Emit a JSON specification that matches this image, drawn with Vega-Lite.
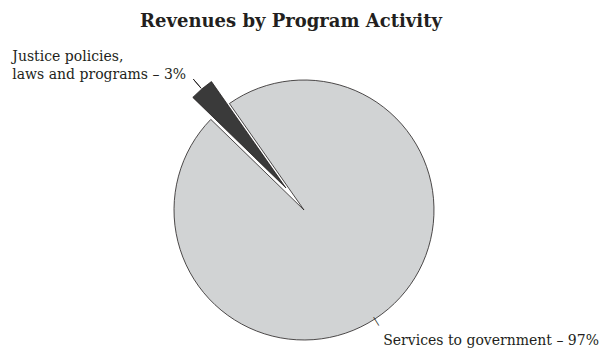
{
  "$schema": "https://vega.github.io/schema/vega-lite/v6.json",
  "autosize": "none",
  "width": 608,
  "height": 280,
  "padding": {"top": 70, "left": 0, "right": 0, "bottom": 0},
  "background": "white",
  "title": {
    "text": "Revenues by Program Activity",
    "font": "DejaVu Serif",
    "fontSize": 18,
    "fontWeight": "bold",
    "color": "#231f20",
    "anchor": "middle",
    "offset": 19,
    "dx": -13
  },
  "data": {
    "values": [
      {"category": "Services to government", "label": "Services to government – 97%", "share": 97},
      {"category": "Justice policies, laws and programs", "label": "Justice policies,\nlaws and programs – 3%", "share": 3}
    ]
  },
  "encoding": {
    "theta": {"field": "share", "type": "quantitative", "stack": true, "scale": {"range": [-0.611, 5.6722]}},
    "order": {"field": "category", "sort": "descending"}
  },
  "layer": [
    {
      "mark": {"type": "arc", "outerRadius": 130, "stroke": "#231f20", "strokeWidth": 0.8, "fill": "#d1d3d4"},
      "encoding": {
        "opacity": {"condition": {"test": "datum.category === 'Services to government'", "value": 1}, "value": 0}
      }
    },
    {
      "mark": {"type": "arc", "outerRadius": 130, "stroke": "#231f20", "strokeWidth": 0.8, "fill": "#3a3a3a", "xOffset": -18, "yOffset": -22},
      "encoding": {
        "opacity": {"condition": {"test": "datum.category === 'Justice policies, laws and programs'", "value": 1}, "value": 0}
      }
    },
    {
      "mark": {"type": "arc", "innerRadius": 131, "outerRadius": 143, "padAngle": 2, "fill": null, "stroke": "#231f20", "strokeWidth": 0.9, "xOffset": -18, "yOffset": -22},
      "encoding": {
        "opacity": {"condition": {"test": "datum.category === 'Justice policies, laws and programs'", "value": 1}, "value": 0}
      }
    },
    {
      "mark": {"type": "text", "radius": 133.4, "align": "center", "baseline": "middle", "angle": 148, "xOffset": -14, "yOffset": 10, "font": "DejaVu Sans", "fontSize": 10, "color": "#231f20"},
      "encoding": {
        "text": {"value": "|"},
        "opacity": {"condition": {"test": "datum.category === 'Services to government'", "value": 1}, "value": 0}
      }
    },
    {
      "mark": {"type": "text", "radius": 160, "align": "left", "baseline": "alphabetic", "dx": -188, "dy": -27, "font": "DejaVu Serif", "fontSize": 14, "lineHeight": 18, "lineBreak": "\n", "color": "#231f20"},
      "encoding": {
        "text": {"field": "label", "type": "nominal"},
        "opacity": {"condition": {"test": "datum.category === 'Justice policies, laws and programs'", "value": 1}, "value": 0}
      }
    },
    {
      "mark": {"type": "text", "radius": 150, "align": "left", "baseline": "alphabetic", "dx": -18, "dy": 21, "font": "DejaVu Serif", "fontSize": 14, "color": "#231f20"},
      "encoding": {
        "text": {"field": "label", "type": "nominal"},
        "opacity": {"condition": {"test": "datum.category === 'Services to government'", "value": 1}, "value": 0}
      }
    }
  ],
  "config": {"view": {"stroke": null}}
}
